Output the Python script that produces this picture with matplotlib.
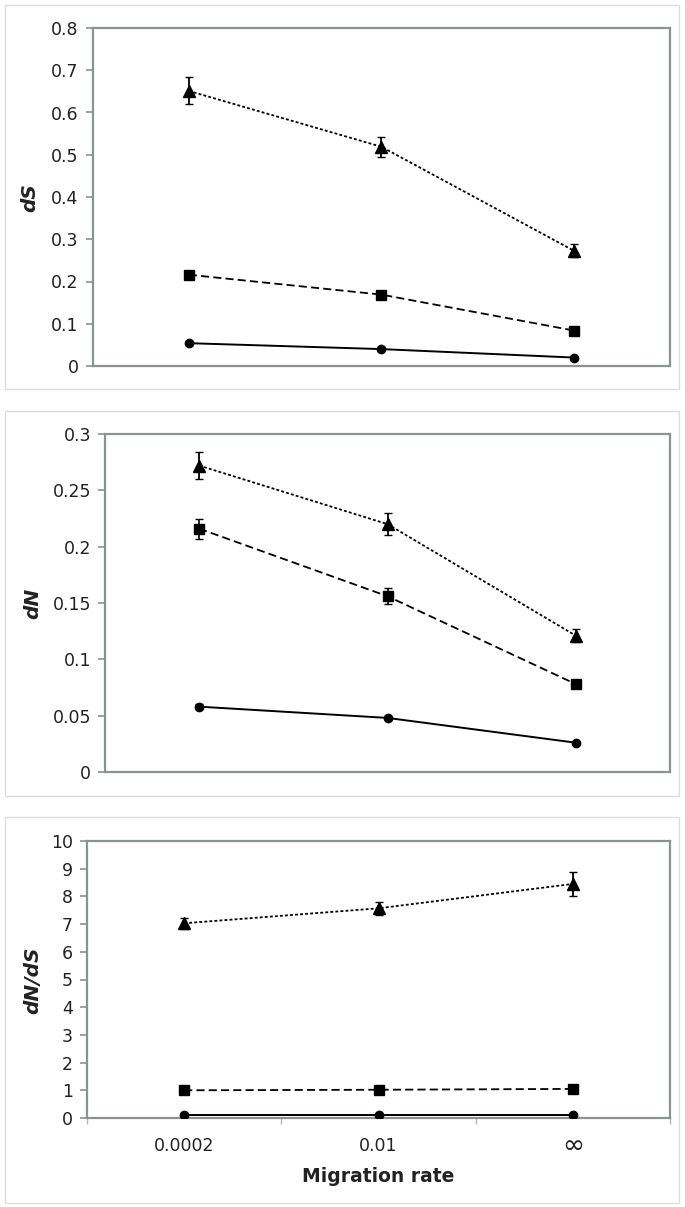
import matplotlib
matplotlib.use("Agg")
import matplotlib.pyplot as plt
from matplotlib.patches import Rectangle

# ---- data ----
categories = ["0.0002", "0.01", "\u221e"]

dS_tri = [0.651, 0.519, 0.273]
dS_tri_err = [0.032, 0.024, 0.015]
dS_sq = [0.216, 0.169, 0.084]
dS_sq_err = [0.005, 0.004, 0.003]
dS_circ = [0.054, 0.040, 0.020]
dS_circ_err = [0.002, 0.002, 0.001]

dN_tri = [0.272, 0.220, 0.121]
dN_tri_err = [0.012, 0.010, 0.006]
dN_sq = [0.216, 0.156, 0.078]
dN_sq_err = [0.009, 0.007, 0.003]
dN_circ = [0.058, 0.048, 0.026]
dN_circ_err = [0.002, 0.001, 0.001]

ratio_tri = [7.03, 7.57, 8.45]
ratio_tri_err = [0.20, 0.24, 0.43]
ratio_sq = [1.00, 1.02, 1.05]
ratio_sq_err = [0.03, 0.03, 0.03]
ratio_circ = [0.10, 0.10, 0.10]
ratio_circ_err = [0.01, 0.01, 0.01]

W, H = 685, 1207
fig = plt.figure(figsize=(W / 100, H / 100), dpi=100)
plt.rcParams['font.family'] = ['DejaVu Sans']

spine_col = '#8a9292'
text_col = '#222222'


def fx(px):
    return px / W


def fy(py):
    return 1 - py / H


# outer frames
for (y0, y1) in [(5, 389), (411, 796), (817, 1203)]:
    fig.patches.append(Rectangle((fx(5), fy(y1)), fx(679) - fx(5), fy(y0) - fy(y1),
                                 transform=fig.transFigure, fill=False,
                                 edgecolor='#dddddd', lw=1.0, zorder=0))

panels = [
    dict(l=92.6, t=28, b=366, ymax=0.8, step=0.1, fmt=lambda v: ('%.1f' % v) if v else '0',
         tri=dS_tri, tri_e=dS_tri_err, sq=dS_sq, sq_e=dS_sq_err, ci=dS_circ, ci_e=dS_circ_err,
         ylabel='dS', ylx=30, yly=198),
    dict(l=105, t=434, b=772, ymax=0.3, step=0.05, fmt=lambda v: ('%g' % v) if v else '0',
         tri=dN_tri, tri_e=dN_tri_err, sq=dN_sq, sq_e=dN_sq_err, ci=dN_circ, ci_e=dN_circ_err,
         ylabel='dN', ylx=33, yly=603),
    dict(l=87, t=841, b=1118, ymax=10, step=1, fmt=lambda v: '%d' % v,
         tri=ratio_tri, tri_e=ratio_tri_err, sq=ratio_sq, sq_e=ratio_sq_err, ci=ratio_circ, ci_e=ratio_circ_err,
         ylabel='dN/dS', ylx=33, yly=980),
]

x = list(range(len(categories)))
for i, p in enumerate(panels):
    ax = fig.add_axes([fx(p['l']), fy(p['b']), fx(670) - fx(p['l']), fy(p['t']) - fy(p['b'])])
    ax.set_xlim(-0.5, 2.5)
    ax.set_ylim(0, p['ymax'])
    n = int(round(p['ymax'] / p['step']))
    ticks = [k * p['step'] for k in range(n + 1)]
    ax.set_yticks(ticks)
    ax.set_yticklabels([p['fmt'](t) for t in ticks])
    for s in ax.spines.values():
        s.set_color(spine_col)
        s.set_linewidth(1.6)
    ax.tick_params(axis='y', direction='out', length=5, width=1.2, color=spine_col,
                   labelsize=12.5, labelcolor=text_col, pad=5)

    # series
    ax.plot(x, p['ci'], color='black', lw=1.4, ls='-', marker='o', ms=6, zorder=3)
    ax.errorbar(x, p['ci'], yerr=p['ci_e'], fmt='none', ecolor='black', elinewidth=1.2, capsize=3, zorder=3)
    ax.plot(x, p['sq'], color='black', lw=1.3, ls=(0, (4.5, 2.3)), marker='s', ms=7, zorder=3)
    ax.errorbar(x, p['sq'], yerr=p['sq_e'], fmt='none', ecolor='black', elinewidth=1.2, capsize=3, zorder=3)
    ax.plot(x, p['tri'], color='black', lw=1.3, ls=(0, (1.6, 1.2)), marker='^', ms=8, zorder=3)
    ax.errorbar(x, p['tri'], yerr=p['tri_e'], fmt='none', ecolor='black', elinewidth=1.3, capsize=3.2, zorder=3)

    if i < 2:
        ax.set_xticks([])
    else:
        ax.set_xticks(x)
        ax.set_xticks([-0.5, 0.5, 1.5, 2.5], minor=True)
        ax.tick_params(axis='x', which='major', length=0, labelsize=12.5, labelcolor=text_col, pad=20)
        ax.tick_params(axis='x', which='minor', direction='out', length=4, width=1.0, color='#b8b8b8')
        labs = ax.set_xticklabels(categories)
        for lab in labs:
            lab.set_verticalalignment('center')
            if lab.get_text() == "\u221e":
                lab.set_fontsize(19)
        fig.text(fx(378), fy(1177), 'Migration rate', ha='center', va='center',
                 fontsize=13.5, fontweight='bold', color=text_col)

    fig.text(fx(p['ylx']), fy(p['yly']), p['ylabel'], rotation=90, ha='center', va='center',
             fontsize=14.5, fontweight='bold', fontstyle='italic', color=text_col)

fig.savefig('out.png', dpi=100)
